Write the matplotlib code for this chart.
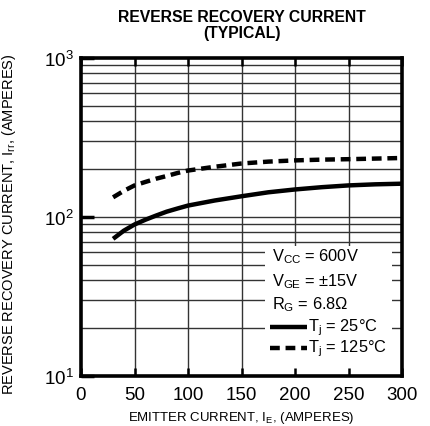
import matplotlib
matplotlib.use("Agg")
import matplotlib.pyplot as plt
from matplotlib.lines import Line2D
from matplotlib.patches import Rectangle

plt.rcParams['font.family'] = ['Liberation Sans', 'DejaVu Sans']
plt.rcParams['mathtext.fontset'] = 'custom'
plt.rcParams['mathtext.rm'] = 'Liberation Sans'
plt.rcParams['mathtext.it'] = 'Liberation Sans'

# Data
ie = [30, 40, 50, 60, 70, 80, 90, 100, 125, 150, 175, 200, 225, 250, 275, 300]
irr_25 = [72.9, 82, 89.7, 96, 102, 108, 113, 118, 127, 135, 143, 149, 154, 158, 160.5, 162]
irr_125 = [133, 146, 158, 166, 174, 181, 189, 196, 207, 217, 223, 227, 229.5, 231, 233, 235]

x_ticks = [0, 50, 100, 150, 200, 250, 300]

fig = plt.figure(figsize=(4.30, 4.27), dpi=100)
ax = fig.add_axes([81/430, 1-377/427, (402-81)/430, (377-59)/427])
ax.set_yscale('log')
ax.set_xlim(0, 300)
ax.set_ylim(10, 1000)

# grid
for xv in x_ticks[1:-1]:
    ax.axvline(xv, color='#333333', lw=1.0, zorder=0.5)
for dec in [10, 100]:
    for m in range(2, 10):
        ax.axhline(dec*m, color='#333333', lw=1.0, zorder=0.5)
ax.axhline(100, color='#333333', lw=1.0, zorder=0.5)

# legend background box
ax.add_patch(Rectangle(((265-81)/321, 0), (392-265)/321, (377-247)/318,
                       transform=ax.transAxes, facecolor='white', edgecolor='none', zorder=1))

ax.plot(ie, irr_25, color='black', lw=3.2, solid_capstyle='butt', solid_joinstyle='round', zorder=3)
ax.plot(ie, irr_125, color='black', lw=3.2, ls=(0, (2.2, 1.3)), dash_capstyle='butt', zorder=3)

ax.set_xticks(x_ticks)
ax.set_xticklabels([str(v) for v in x_ticks])
ax.set_yticks([10, 100, 1000])
ax.yaxis.set_minor_locator(matplotlib.ticker.NullLocator())
ax.tick_params(axis='x', which='major', direction='in', top=True, bottom=True,
               length=6, width=1.8, labelsize=13.5, pad=7)
ax.tick_params(axis='y', which='major', direction='in', left=True, right=False,
               length=9, width=2.5, labelsize=13.5, pad=5)
for s in ax.spines.values():
    s.set_linewidth(2.6)

fig.text(0.563, 1-17.5/427, 'REVERSE RECOVERY CURRENT', ha='center', va='center',
         fontsize=11.3, fontweight='bold')
fig.text(0.563, 1-33.5/427, '(TYPICAL)', ha='center', va='center',
         fontsize=11.3, fontweight='bold')
fig.text(241/430, 1-418/427, r'EMITTER CURRENT, I$_\mathregular{E}$, (AMPERES)',
         ha='center', va='center', fontsize=9.5)
fig.text(9/430, 1-224/427, r'REVERSE RECOVERY CURRENT, I$_\mathregular{rr}$, (AMPERES)',
         ha='center', va='center', fontsize=10.5, rotation=90)

def ax_xy(px, py):
    return ((px-81)/321, (377-py)/318)

tfs = 11.8
for py, s in [(257, r'V$_\mathregular{CC}$ = 600V'), (282, r'V$_\mathregular{GE}$ = ±15V'),
              (305, r'R$_\mathregular{G}$ = 6.8Ω')]:
    x0, y0 = ax_xy(272, py)
    ax.text(x0, y0, s, transform=ax.transAxes, fontsize=tfs, va='center', ha='left', zorder=4)
for py, s, style in [(328, r'T$_\mathregular{j}$ = 25°C', '-'), (349, r'T$_\mathregular{j}$ = 125°C', (0, (2.2, 1.3)))]:
    x0, y0 = ax_xy(270, py)
    x1, _ = ax_xy(307, py)
    ax.add_line(Line2D([x0, x1], [y0, y0], transform=ax.transAxes, color='black',
                       lw=3.2, ls=style, solid_capstyle='butt', dash_capstyle='butt', zorder=4))
    xt, _ = ax_xy(308, py)
    ax.text(xt, y0, s, transform=ax.transAxes, fontsize=tfs, va='center', ha='left', zorder=4)

fig.savefig('out.png', dpi=100)
